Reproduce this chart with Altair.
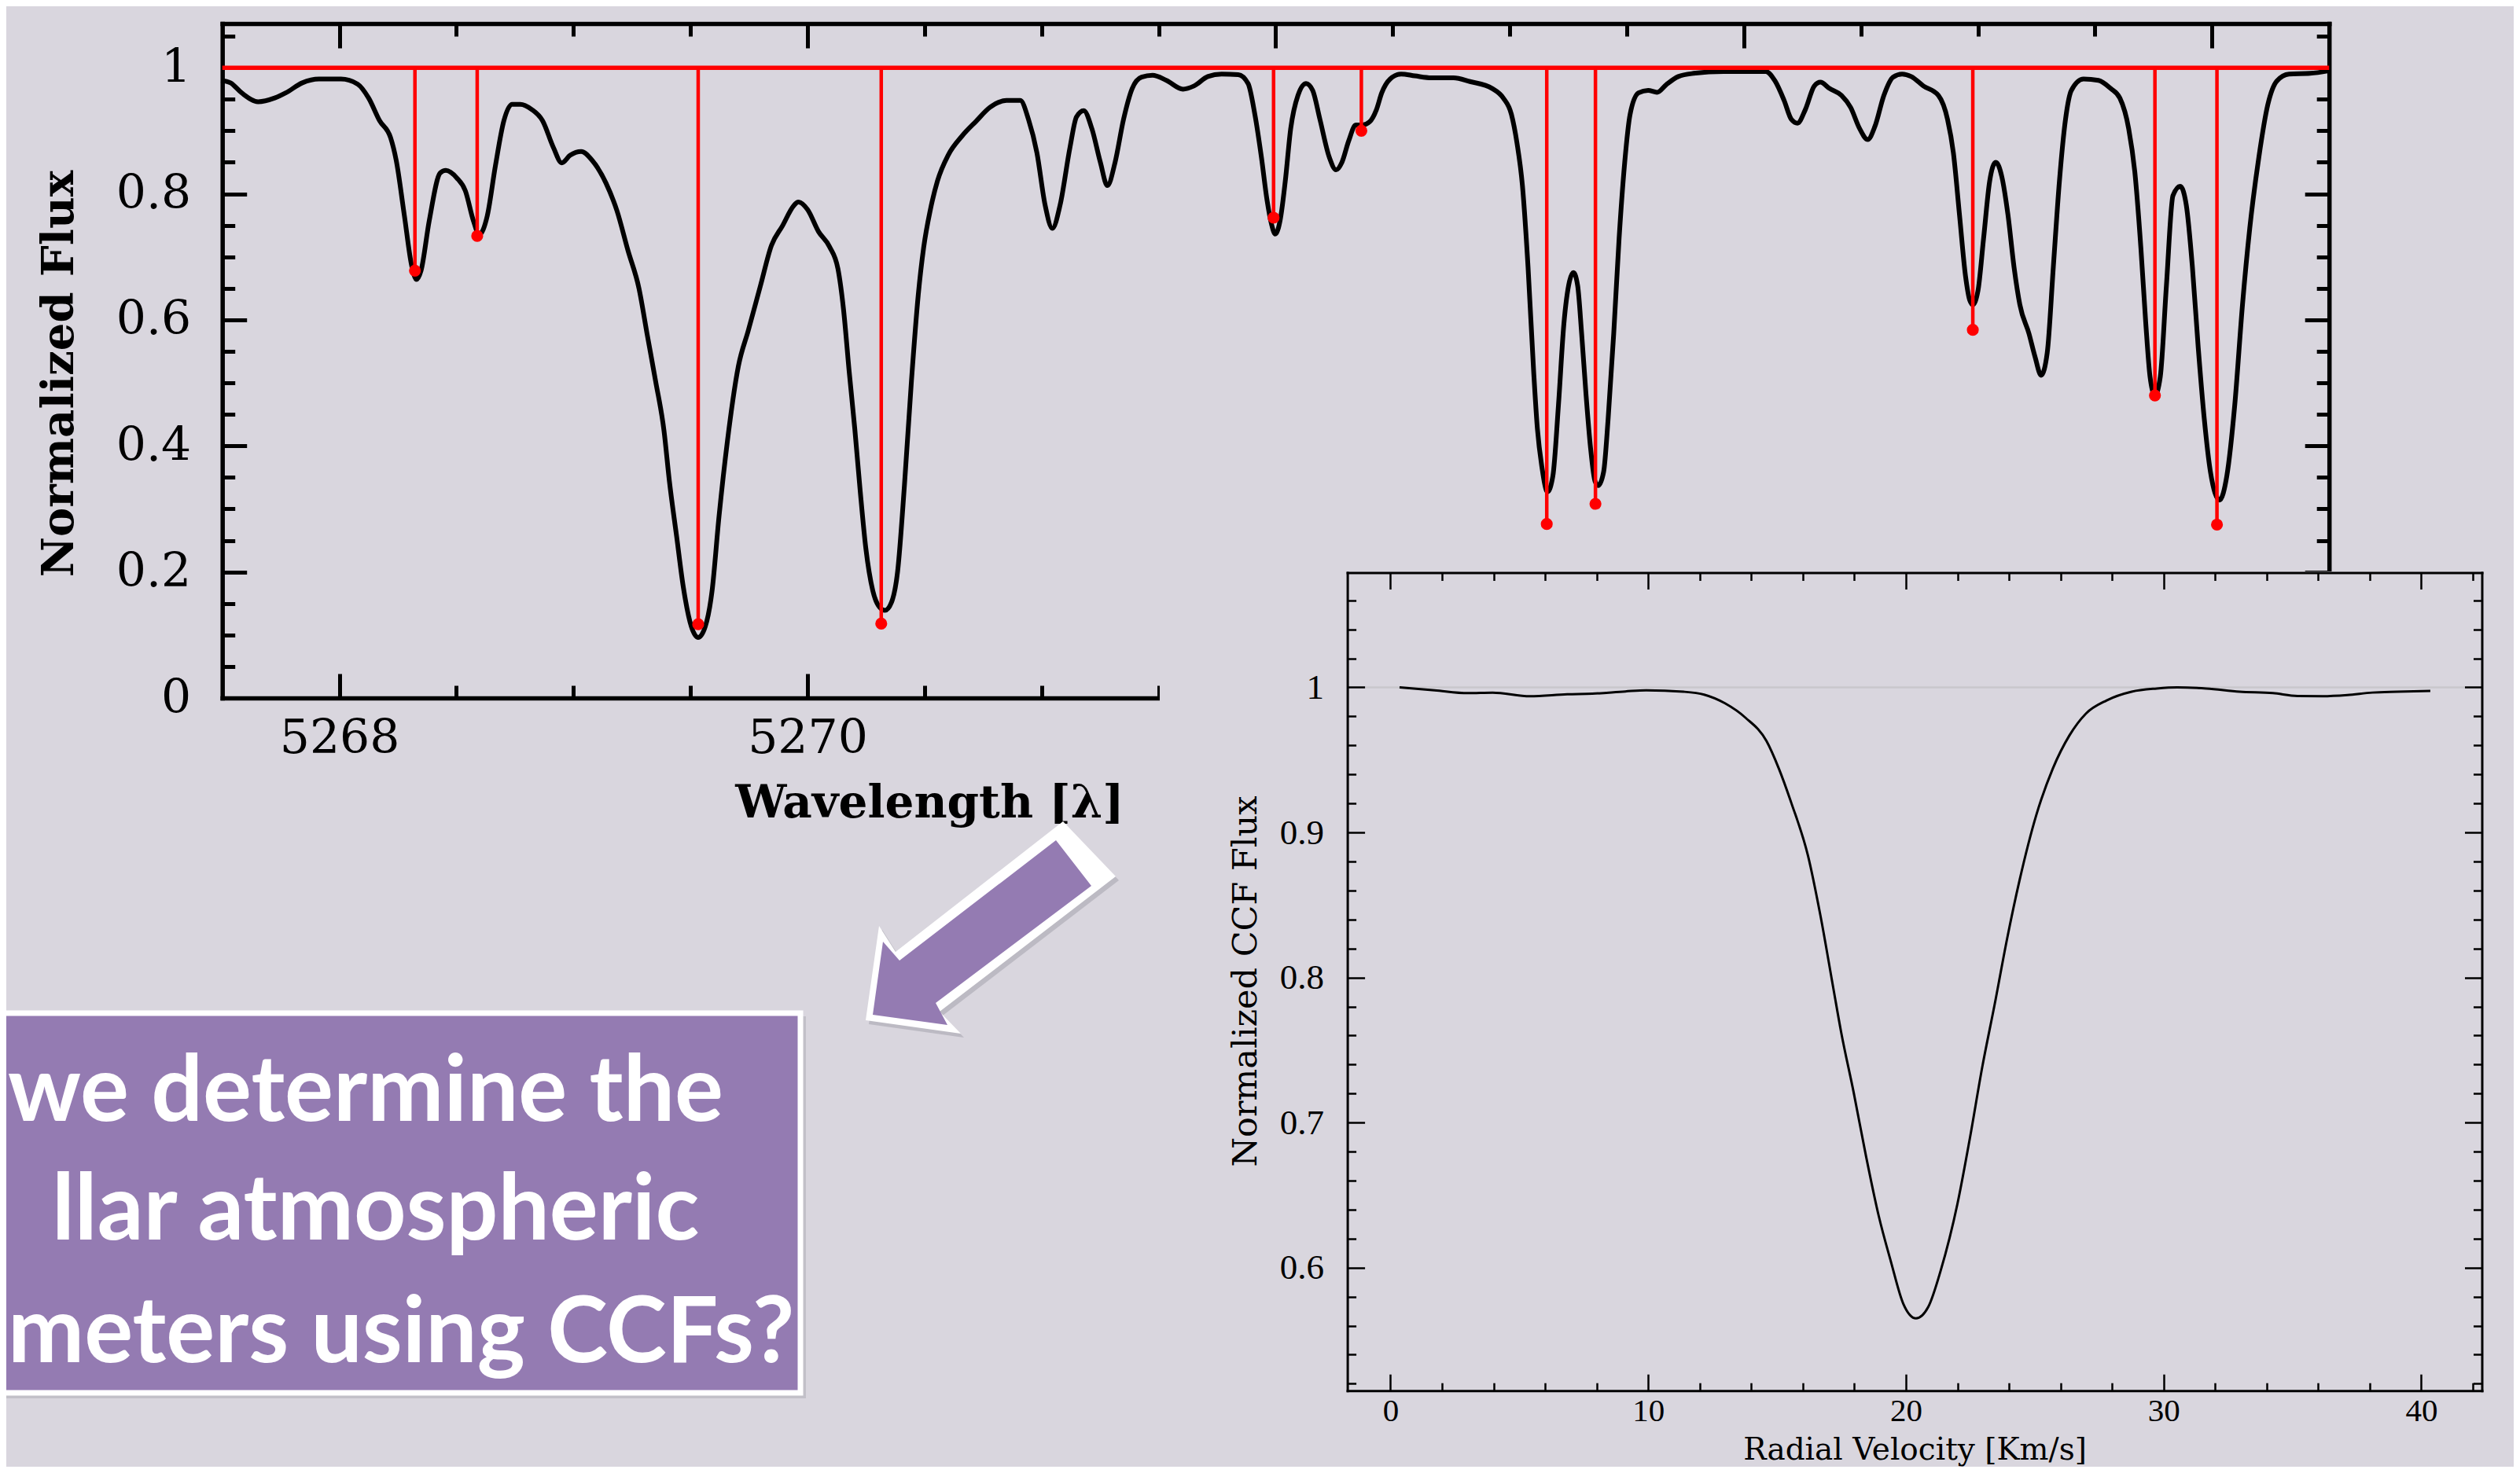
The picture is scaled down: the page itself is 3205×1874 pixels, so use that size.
import altair as alt
import pandas as pd

BG = "#d9d6de"
PURPLE = "#947bb2"

# ---------------- data ----------------
main_wl = [5267.495, 5267.535, 5267.583, 5267.653, 5267.724, 5267.771, 5267.842, 5267.913, 5268.007, 5268.078,
           5268.125, 5268.172, 5268.219, 5268.243, 5268.278, 5268.309, 5268.330, 5268.349, 5268.384, 5268.431,
           5268.455, 5268.502, 5268.538, 5268.573, 5268.597, 5268.632, 5268.667, 5268.703, 5268.738, 5268.773,
           5268.821, 5268.868, 5268.915, 5268.950, 5268.986, 5269.033, 5269.080, 5269.139, 5269.186, 5269.233,
           5269.280, 5269.316, 5269.351, 5269.387, 5269.410, 5269.441, 5269.469, 5269.504, 5269.533, 5269.563,
           5269.592, 5269.622, 5269.658, 5269.705, 5269.747, 5269.799, 5269.846, 5269.893, 5269.941, 5269.960,
           5270.000, 5270.047, 5270.094, 5270.130, 5270.154, 5270.178, 5270.202, 5270.225, 5270.249, 5270.279,
           5270.308, 5270.331, 5270.359, 5270.385, 5270.414, 5270.444, 5270.473, 5270.496, 5270.525, 5270.555,
           5270.602, 5270.661, 5270.720, 5270.779, 5270.850, 5270.909, 5270.944, 5270.980, 5271.015, 5271.046,
           5271.079, 5271.121, 5271.149, 5271.180, 5271.215, 5271.251, 5271.281, 5271.314, 5271.350, 5271.387,
           5271.427, 5271.474, 5271.533, 5271.604, 5271.651, 5271.710, 5271.769, 5271.840, 5271.882, 5271.911,
           5271.939, 5271.963, 5271.982, 5271.998, 5272.020, 5272.041, 5272.064, 5272.095, 5272.130, 5272.158,
           5272.189, 5272.229, 5272.258, 5272.283, 5272.312, 5272.342, 5272.371, 5272.401, 5272.430, 5272.453,
           5272.489, 5272.536, 5272.595, 5272.665, 5272.760, 5272.830, 5272.925, 5272.972, 5273.007, 5273.031,
           5273.054, 5273.078, 5273.102, 5273.118, 5273.137, 5273.161, 5273.184, 5273.208, 5273.231, 5273.255,
           5273.272, 5273.290, 5273.307, 5273.326, 5273.345, 5273.364, 5273.378, 5273.401, 5273.420, 5273.444,
           5273.467, 5273.491, 5273.514, 5273.550, 5273.591, 5273.629, 5273.668, 5273.720, 5273.785, 5273.914,
           5274.094, 5274.133, 5274.172, 5274.203, 5274.229, 5274.262, 5274.301, 5274.327, 5274.366, 5274.417,
           5274.456, 5274.495, 5274.529, 5274.560, 5274.598, 5274.637, 5274.676, 5274.715, 5274.767, 5274.831,
           5274.870, 5274.895, 5274.921, 5274.947, 5274.965, 5274.978, 5275.000, 5275.024, 5275.050, 5275.076,
           5275.102, 5275.128, 5275.154, 5275.179, 5275.218, 5275.244, 5275.270, 5275.296, 5275.322, 5275.348,
           5275.374, 5275.399, 5275.451, 5275.515, 5275.567, 5275.606, 5275.644, 5275.670, 5275.696, 5275.717,
           5275.735, 5275.756, 5275.779, 5275.805, 5275.833, 5275.864, 5275.890, 5275.916, 5275.941, 5275.967,
           5275.993, 5276.032, 5276.063, 5276.097, 5276.130, 5276.161, 5276.200, 5276.238, 5276.277, 5276.329,
           5276.419, 5276.497]
main_flux = [0.980, 0.976, 0.960, 0.946, 0.952, 0.960, 0.976, 0.982, 0.982, 0.974,
             0.952, 0.916, 0.889, 0.853, 0.765, 0.686, 0.664, 0.678, 0.757, 0.833,
             0.837, 0.825, 0.805, 0.757, 0.735, 0.765, 0.845, 0.916, 0.942, 0.942,
             0.934, 0.916, 0.873, 0.849, 0.861, 0.867, 0.853, 0.817, 0.773, 0.710,
             0.650, 0.575, 0.503, 0.424, 0.344, 0.256, 0.177, 0.113, 0.096, 0.113,
             0.169, 0.288, 0.408, 0.527, 0.583, 0.654, 0.718, 0.749, 0.781, 0.787,
             0.775, 0.740, 0.716, 0.681, 0.616, 0.518, 0.427, 0.329, 0.238, 0.170,
             0.144, 0.139, 0.152, 0.201, 0.337, 0.503, 0.639, 0.714, 0.775, 0.820,
             0.862, 0.892, 0.915, 0.937, 0.948, 0.948, 0.918, 0.865, 0.782, 0.745,
             0.782, 0.873, 0.922, 0.932, 0.903, 0.850, 0.813, 0.850, 0.918, 0.967,
             0.985, 0.988, 0.980, 0.966, 0.971, 0.986, 0.990, 0.989, 0.975, 0.926,
             0.858, 0.790, 0.752, 0.736, 0.760, 0.820, 0.903, 0.956, 0.975, 0.964,
             0.918, 0.858, 0.838, 0.850, 0.884, 0.909, 0.909, 0.914, 0.933, 0.960,
             0.982, 0.990, 0.987, 0.984, 0.984, 0.978, 0.967, 0.952, 0.926, 0.880,
             0.813, 0.684, 0.518, 0.427, 0.367, 0.327, 0.352, 0.465, 0.593, 0.661,
             0.675, 0.654, 0.578, 0.480, 0.397, 0.344, 0.337, 0.359, 0.442, 0.578,
             0.729, 0.850, 0.926, 0.960, 0.964, 0.961, 0.973, 0.986, 0.991, 0.994,
             0.994, 0.979, 0.948, 0.918, 0.912, 0.933, 0.971, 0.977, 0.967, 0.956,
             0.937, 0.903, 0.886, 0.907, 0.956, 0.985, 0.990, 0.986, 0.971, 0.956,
             0.918, 0.865, 0.767, 0.669, 0.631, 0.624, 0.646, 0.729, 0.820, 0.850,
             0.827, 0.767, 0.684, 0.624, 0.578, 0.541, 0.512, 0.548, 0.684, 0.820,
             0.918, 0.964, 0.982, 0.980, 0.967, 0.952, 0.903, 0.835, 0.714, 0.594,
             0.510, 0.480, 0.510, 0.654, 0.797, 0.812, 0.782, 0.684, 0.556, 0.442,
             0.359, 0.314, 0.352, 0.465, 0.624, 0.745, 0.858, 0.941, 0.979, 0.990,
             0.991, 0.995]

line_wl = [5268.323, 5268.589, 5269.533, 5270.315, 5271.991, 5272.366,
           5273.158, 5273.366, 5274.978, 5275.756, 5276.021]
line_depth = [0.678, 0.733, 0.117, 0.118, 0.762, 0.900,
              0.276, 0.308, 0.584, 0.480, 0.275]

ccf_v = [0.35, 1.71, 3.0, 3.96, 5.41, 6.86, 7.83, 9.11, 9.92, 11.37, 12.17, 12.98, 13.78, 14.59,
         15.07, 15.56, 16.20, 16.68, 17.17, 17.49, 17.97, 18.45, 18.94, 19.42, 19.90, 20.39,
         20.87, 21.35, 22.0, 22.48, 22.96, 23.45, 23.93, 24.41, 25.06, 25.70, 26.35, 26.99,
         27.79, 28.76, 29.73, 30.53, 31.66, 32.95, 34.24, 35.20, 36.17, 37.13, 38.10, 39.07, 40.35]
ccf_flux = [1.000, 0.998, 0.996, 0.9964, 0.9939, 0.9952, 0.9956, 0.9972, 0.998, 0.997, 0.995,
            0.989, 0.979, 0.963, 0.944, 0.920, 0.884, 0.843, 0.794, 0.762, 0.721, 0.677,
            0.636, 0.604, 0.575, 0.565, 0.573, 0.598, 0.644, 0.689, 0.738, 0.782, 0.827,
            0.867, 0.912, 0.944, 0.967, 0.982, 0.991, 0.997, 0.9992, 1.000, 0.9992, 0.997,
            0.996, 0.994, 0.9939, 0.9947, 0.9964, 0.997, 0.9976]

main_x_labels = [5268, 5270]
main_x_major = [5268, 5270, 5272, 5274, 5276]
main_x_minor = [5268.5, 5269, 5269.5, 5270.5, 5271, 5271.5, 5272.5, 5273, 5273.5,
                5274.5, 5275, 5275.5]
main_y_major = [0, 0.2, 0.4, 0.6, 0.8, 1]
main_y_minor = [0.05, 0.1, 0.15, 0.25, 0.3, 0.35, 0.45, 0.5, 0.55, 0.65, 0.7, 0.75,
                0.85, 0.9, 0.95, 1.05]
ccf_x_major = [0, 10, 20, 30, 40]
ccf_x_minor = [2, 4, 6, 8, 12, 14, 16, 18, 22, 24, 26, 28, 32, 34, 36, 38, 42]
ccf_y_major = [0.6, 0.7, 0.8, 0.9, 1.0]
ccf_y_minor = [0.52, 0.54, 0.56, 0.58, 0.62, 0.64, 0.66, 0.68, 0.72, 0.74, 0.76, 0.78,
               0.82, 0.84, 0.86, 0.88, 0.92, 0.94, 0.96, 0.98, 1.02, 1.04, 1.06]

box_lines = ["we determine the", "llar atmospheric", "meters using CCFs?"]

# ---------------- layout (plot-area pixels) ----------------
W, H = 3189, 1858
M_L, M_R, M_T, M_B = 274.7, 2954.2, 22.0, 880.0
I_L, I_R, I_T, I_B = 1705.6, 3148.5, 720.5, 1761.2
M_XDOM, M_YDOM = [5267.5, 5276.5], [0, 1.07]
I_XDOM, I_YDOM = [-1.675, 42.35], [0.5152, 1.0791]


def mx():
    return alt.Scale(domain=M_XDOM, range=[M_L, M_R], nice=False, zero=False)


def my():
    return alt.Scale(domain=M_YDOM, range=[M_B, M_T], nice=False, zero=False)


def ix():
    return alt.Scale(domain=I_XDOM, range=[I_L, I_R], nice=False, zero=False)


def iy():
    return alt.Scale(domain=I_YDOM, range=[I_B, I_T], nice=False, zero=False)


def off_bottom(y):
    return y - H


def off_top(y):
    return -y


def off_left(x):
    return -x


def off_right(x):
    return x - W


def tick_axis(orient, offset, values, size, width, z, domain=False, dwidth=0):
    kw = dict(orient=orient, offset=offset, values=values, tickSize=size, tickWidth=width,
              tickColor="black", labels=False, grid=False, title=None, zindex=z,
              domain=domain)
    if domain:
        kw.update(domainWidth=dwidth, domainColor="black", domainCap="square")
    return alt.Axis(**kw)


def axis_layer(xsc, ysc, xax, yax, xv, yv):
    d = pd.DataFrame({"x": [xv], "y": [yv]})
    return alt.Chart(d).mark_point(opacity=0, size=1).encode(
        x=alt.X("x:Q", scale=xsc, axis=xax),
        y=alt.Y("y:Q", scale=ysc, axis=yax),
    )


layers = []

# ----- main plot axes (behind marks) -----
mxl = alt.Axis(orient="bottom", offset=off_bottom(M_B), values=main_x_labels, format="d",
               ticks=False, grid=False, domain=True, domainWidth=5.5, domainColor="black",
               domainCap="square", labelFont="DejaVu Serif", labelFontSize=60,
               labelColor="black", labelPadding=22, labelFlush=False,
               title="Wavelength [\u03bb]", titleFont="DejaVu Serif", titleFontWeight="bold",
               titleFontSize=58, titleColor="black", titleX=1174, titleY=151,
               titleAlign="center", titleBaseline="alphabetic", titleAngle=0, zindex=0)
myl = alt.Axis(orient="left", offset=off_left(M_L), values=main_y_major, format=".1~f",
               ticks=False, grid=False, domain=True, domainWidth=5.5, domainColor="black",
               domainCap="square", labelFont="DejaVu Serif", labelFontSize=60,
               labelColor="black", labelPadding=40, labelFlush=False,
               title="Normalized Flux", titleFont="DejaVu Serif", titleFontWeight="bold",
               titleFontSize=56, titleColor="black", titleX=-190.7, titleY=467,
               titleAlign="center", titleBaseline="alphabetic", titleAngle=-90, zindex=0)
layers.append(axis_layer(mx(), my(), mxl, myl, 5270, 0.5))
layers.append(axis_layer(mx(), my(),
                         tick_axis("top", off_top(M_B), main_x_major, 31, 5, 0),
                         tick_axis("right", off_right(M_L), main_y_major, 31, 5, 0),
                         5270, 0.5))
layers.append(axis_layer(mx(), my(),
                         tick_axis("top", off_top(M_B), main_x_minor, 16, 5, 0),
                         tick_axis("right", off_right(M_L), main_y_minor, 16, 5, 0),
                         5270, 0.5))
layers.append(axis_layer(mx(), my(),
                         tick_axis("bottom", off_bottom(M_T), main_x_major, 31, 5, 0, True, 5.5),
                         tick_axis("left", off_left(M_R), main_y_major, 31, 5, 0, True, 5.5),
                         5270, 0.5))
layers.append(axis_layer(mx(), my(),
                         tick_axis("bottom", off_bottom(M_T), main_x_minor, 16, 5, 0),
                         tick_axis("left", off_left(M_R), main_y_minor, 16, 5, 0),
                         5270, 0.5))

# ----- main plot data -----
spec = pd.DataFrame({"x": main_wl, "y": main_flux})
layers.append(alt.Chart(spec).mark_line(color="black", strokeWidth=6, interpolate="monotone").encode(
    x=alt.X("x:Q", scale=mx(), axis=None), y=alt.Y("y:Q", scale=my(), axis=None)))

cont = pd.DataFrame({"x": [M_XDOM[0]], "x2": [M_XDOM[1]], "y": [1.0]})
layers.append(alt.Chart(cont).mark_rule(color="#ff0000", strokeWidth=5.5).encode(
    x=alt.X("x:Q", scale=mx(), axis=None), x2="x2:Q", y=alt.Y("y:Q", scale=my(), axis=None)))

lines = pd.DataFrame({"x": line_wl, "top": [1.0] * len(line_wl), "depth": line_depth})
layers.append(alt.Chart(lines).mark_rule(color="#ff0000", strokeWidth=4.5).encode(
    x=alt.X("x:Q", scale=mx(), axis=None), y=alt.Y("top:Q", scale=my(), axis=None), y2="depth:Q"))
layers.append(alt.Chart(lines).mark_circle(color="#ff0000", opacity=1, size=230).encode(
    x=alt.X("x:Q", scale=mx(), axis=None), y=alt.Y("depth:Q", scale=my(), axis=None)))

one = pd.DataFrame({"a": [0]})

# ----- cover (inset background) -----
layers.append(alt.Chart(one).mark_rect(color=BG).encode(
    x=alt.value(1467), x2=alt.value(W), y=alt.value(719), y2=alt.value(H)))

# ----- purple question box -----
layers.append(alt.Chart(one).mark_rect(color="#b3b0b9", opacity=0.6).encode(
    x=alt.value(-20), x2=alt.value(1017), y=alt.value(1285), y2=alt.value(1771)))
layers.append(alt.Chart(one).mark_rect(fill=PURPLE, stroke="white", strokeWidth=7).encode(
    x=alt.value(-20), x2=alt.value(1010), y=alt.value(1281), y2=alt.value(1764)))
for txt, tx, ty in zip(box_lines, [2, 58, 2], [1418, 1569, 1725]):
    layers.append(alt.Chart(one).mark_text(align="left", baseline="alphabetic", font="Lato",
                                           fontWeight="bold", fontSize=116, color="white").encode(
        x=alt.value(tx), y=alt.value(ty), text=alt.value(txt)))


# ----- arrow -----
def poly(pts):
    ring = [list(p) for p in pts] + [list(pts[0])]
    return {"type": "Feature", "properties": {},
            "geometry": {"type": "Polygon", "coordinates": [ring]}}


arrow_outer = [(1344, 1037), (1411, 1107), (1187, 1279), (1214, 1307), (1093, 1290),
               (1110, 1170), (1131, 1203)]
arrow_inner = [(1335, 1061), (1380, 1119), (1182, 1268), (1197, 1296), (1102, 1283),
               (1115, 1190), (1136, 1214)]
arrow_shadow = [(x + 4, y + 5) for x, y in arrow_outer]
for pts, col, op in [(arrow_shadow, "#a9a6b0", 0.6), (arrow_outer, "white", 1.0),
                     (arrow_inner, PURPLE, 1.0)]:
    layers.append(alt.Chart(alt.Data(values=[poly(pts)])).mark_geoshape(
        fill=col, opacity=op, strokeWidth=0).project(type="identity", scale=1, translate=[0, 0]))

# ----- inset data -----
unity = pd.DataFrame({"x": [I_XDOM[0]], "x2": [I_XDOM[1]], "y": [1.0]})
layers.append(alt.Chart(unity).mark_rule(color="#c9c7cc", strokeWidth=2.5).encode(
    x=alt.X("x:Q", scale=ix(), axis=None), x2="x2:Q", y=alt.Y("y:Q", scale=iy(), axis=None)))
ccf = pd.DataFrame({"x": ccf_v, "y": ccf_flux})
layers.append(alt.Chart(ccf).mark_line(color="black", strokeWidth=3, interpolate="monotone").encode(
    x=alt.X("x:Q", scale=ix(), axis=None), y=alt.Y("y:Q", scale=iy(), axis=None)))

# ----- inset axes (on top) -----
ixl = alt.Axis(orient="bottom", offset=off_bottom(I_B), values=ccf_x_major, format="d",
               ticks=False, grid=False, domain=True, domainWidth=3, domainColor="black",
               domainCap="square", labelFont="Liberation Serif", labelFontSize=41,
               labelColor="black", labelPadding=6, labelFlush=False,
               title="Radial Velocity [Km/s]", titleFont="DejaVu Serif", titleFontWeight="normal",
               titleFontSize=39, titleColor="black", titleX=(I_L + I_R) / 2, titleY=87.5,
               titleAlign="center", titleBaseline="alphabetic", titleAngle=0, zindex=1)
iyl = alt.Axis(orient="left", offset=off_left(I_L), values=ccf_y_major, format=".1~f",
               ticks=False, grid=False, domain=True, domainWidth=3, domainColor="black",
               domainCap="square", labelFont="Liberation Serif", labelFontSize=45,
               labelColor="black", labelPadding=30, labelFlush=False,
               title="Normalized CCF Flux", titleFont="DejaVu Serif", titleFontWeight="normal",
               titleFontSize=43, titleColor="black", titleX=-116.6, titleY=1240,
               titleAlign="center", titleBaseline="alphabetic", titleAngle=-90, zindex=1)
layers.append(axis_layer(ix(), iy(), ixl, iyl, 20, 0.8))
layers.append(axis_layer(ix(), iy(),
                         tick_axis("top", off_top(I_B), ccf_x_major, 21, 2.5, 1),
                         tick_axis("right", off_right(I_L), ccf_y_major, 22, 2.5, 1),
                         20, 0.8))
layers.append(axis_layer(ix(), iy(),
                         tick_axis("top", off_top(I_B), ccf_x_minor, 10, 2.5, 1),
                         tick_axis("right", off_right(I_L), ccf_y_minor, 11, 2.5, 1),
                         20, 0.8))
layers.append(axis_layer(ix(), iy(),
                         tick_axis("bottom", off_bottom(I_T), ccf_x_major, 21, 2.5, 1, True, 3),
                         tick_axis("left", off_left(I_R), ccf_y_major, 22, 2.5, 1, True, 3),
                         20, 0.8))
layers.append(axis_layer(ix(), iy(),
                         tick_axis("bottom", off_bottom(I_T), ccf_x_minor, 10, 2.5, 1),
                         tick_axis("left", off_left(I_R), ccf_y_minor, 11, 2.5, 1),
                         20, 0.8))

chart = alt.layer(*layers).resolve_scale(x="independent", y="independent").resolve_axis(
    x="independent", y="independent").properties(
    width=W, height=H, background=BG, padding=0,
    autosize=alt.AutoSizeParams(type="none")).configure_view(strokeWidth=0)

chart.save("out.html", embed_options={"renderer": "svg", "actions": False})
